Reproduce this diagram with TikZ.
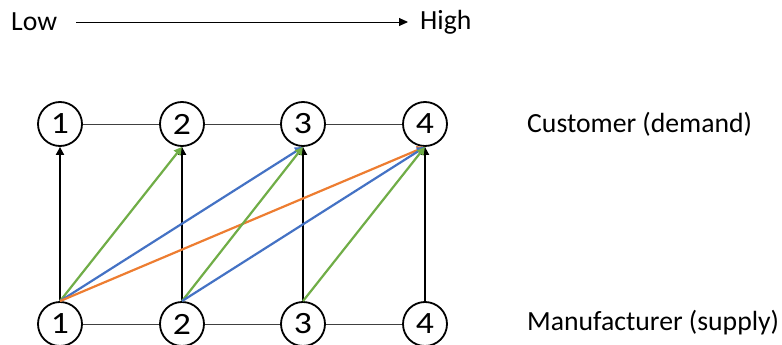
\documentclass[tikz,border=0pt]{standalone}
\usepackage{fontspec}
\setmainfont{Carlito}
\usetikzlibrary{arrows.meta}
\definecolor{ogreen}{HTML}{70AD47}
\definecolor{oblue}{HTML}{4472C4}
\definecolor{oorange}{HTML}{ED7D31}
\begin{document}
\begin{tikzpicture}[x=1pt,y=-1pt,
  num/.style={draw,circle,line width=1.8pt,minimum size=44pt,inner sep=0pt,font=\fontsize{31}{33}\selectfont},
  lbl/.style={anchor=west,inner sep=0pt,font=\fontsize{27.7}{30}\selectfont},
  link/.style={draw=black!75,line width=0.9pt},
  flow/.style={line width=2.2pt,-{Triangle[length=8pt,width=8pt]}}]
\useasboundingbox (0,0) rectangle (782,345);
\node[lbl] (low) at (11,22) {Low};
\node[lbl] (high) at (420,22) {High};
\draw[line width=0.9pt,-{Triangle[length=9pt,width=8pt]}] (76,22) -- (408,22);
\foreach \i/\x in {1/60,2/182,3/303,4/425}{
  \node[num] (t\i) at (\x,124) {\scalebox{1.15}[1]{\i}};
  \node[num] (b\i) at (\x,324) {\scalebox{1.15}[1]{\i}};
}
\draw[link] (t1) -- (t2); \draw[link] (t2) -- (t3); \draw[link] (t3) -- (t4);
\draw[link] (b1) -- (b2); \draw[link] (b2) -- (b3); \draw[link] (b3) -- (b4);
\node[lbl] (cust) at (527,124) {Customer (demand)};
\node[lbl] (manu) at (527,323) {Manufacturer (supply)};
\draw[flow,black,line width=1.8pt] (b1.north) -- (t1.south);
\draw[flow,black,line width=1.8pt] (b2.north) -- (t2.south);
\draw[flow,black,line width=1.8pt] (b3.north) -- (t3.south);
\draw[flow,black,line width=1.8pt] (b4.north) -- (t4.south);
\draw[flow,ogreen] (b1.north) -- (t2.south);
\draw[flow,oblue] (b1.north) -- (t3.south);
\draw[flow,oorange] (b1.north) -- (t4.south);
\draw[flow,ogreen] (b2.north) -- (t3.south);
\draw[flow,oblue] (b2.north) -- (t4.south);
\draw[flow,ogreen] (b3.north) -- (t4.south);
\end{tikzpicture}
\end{document}
